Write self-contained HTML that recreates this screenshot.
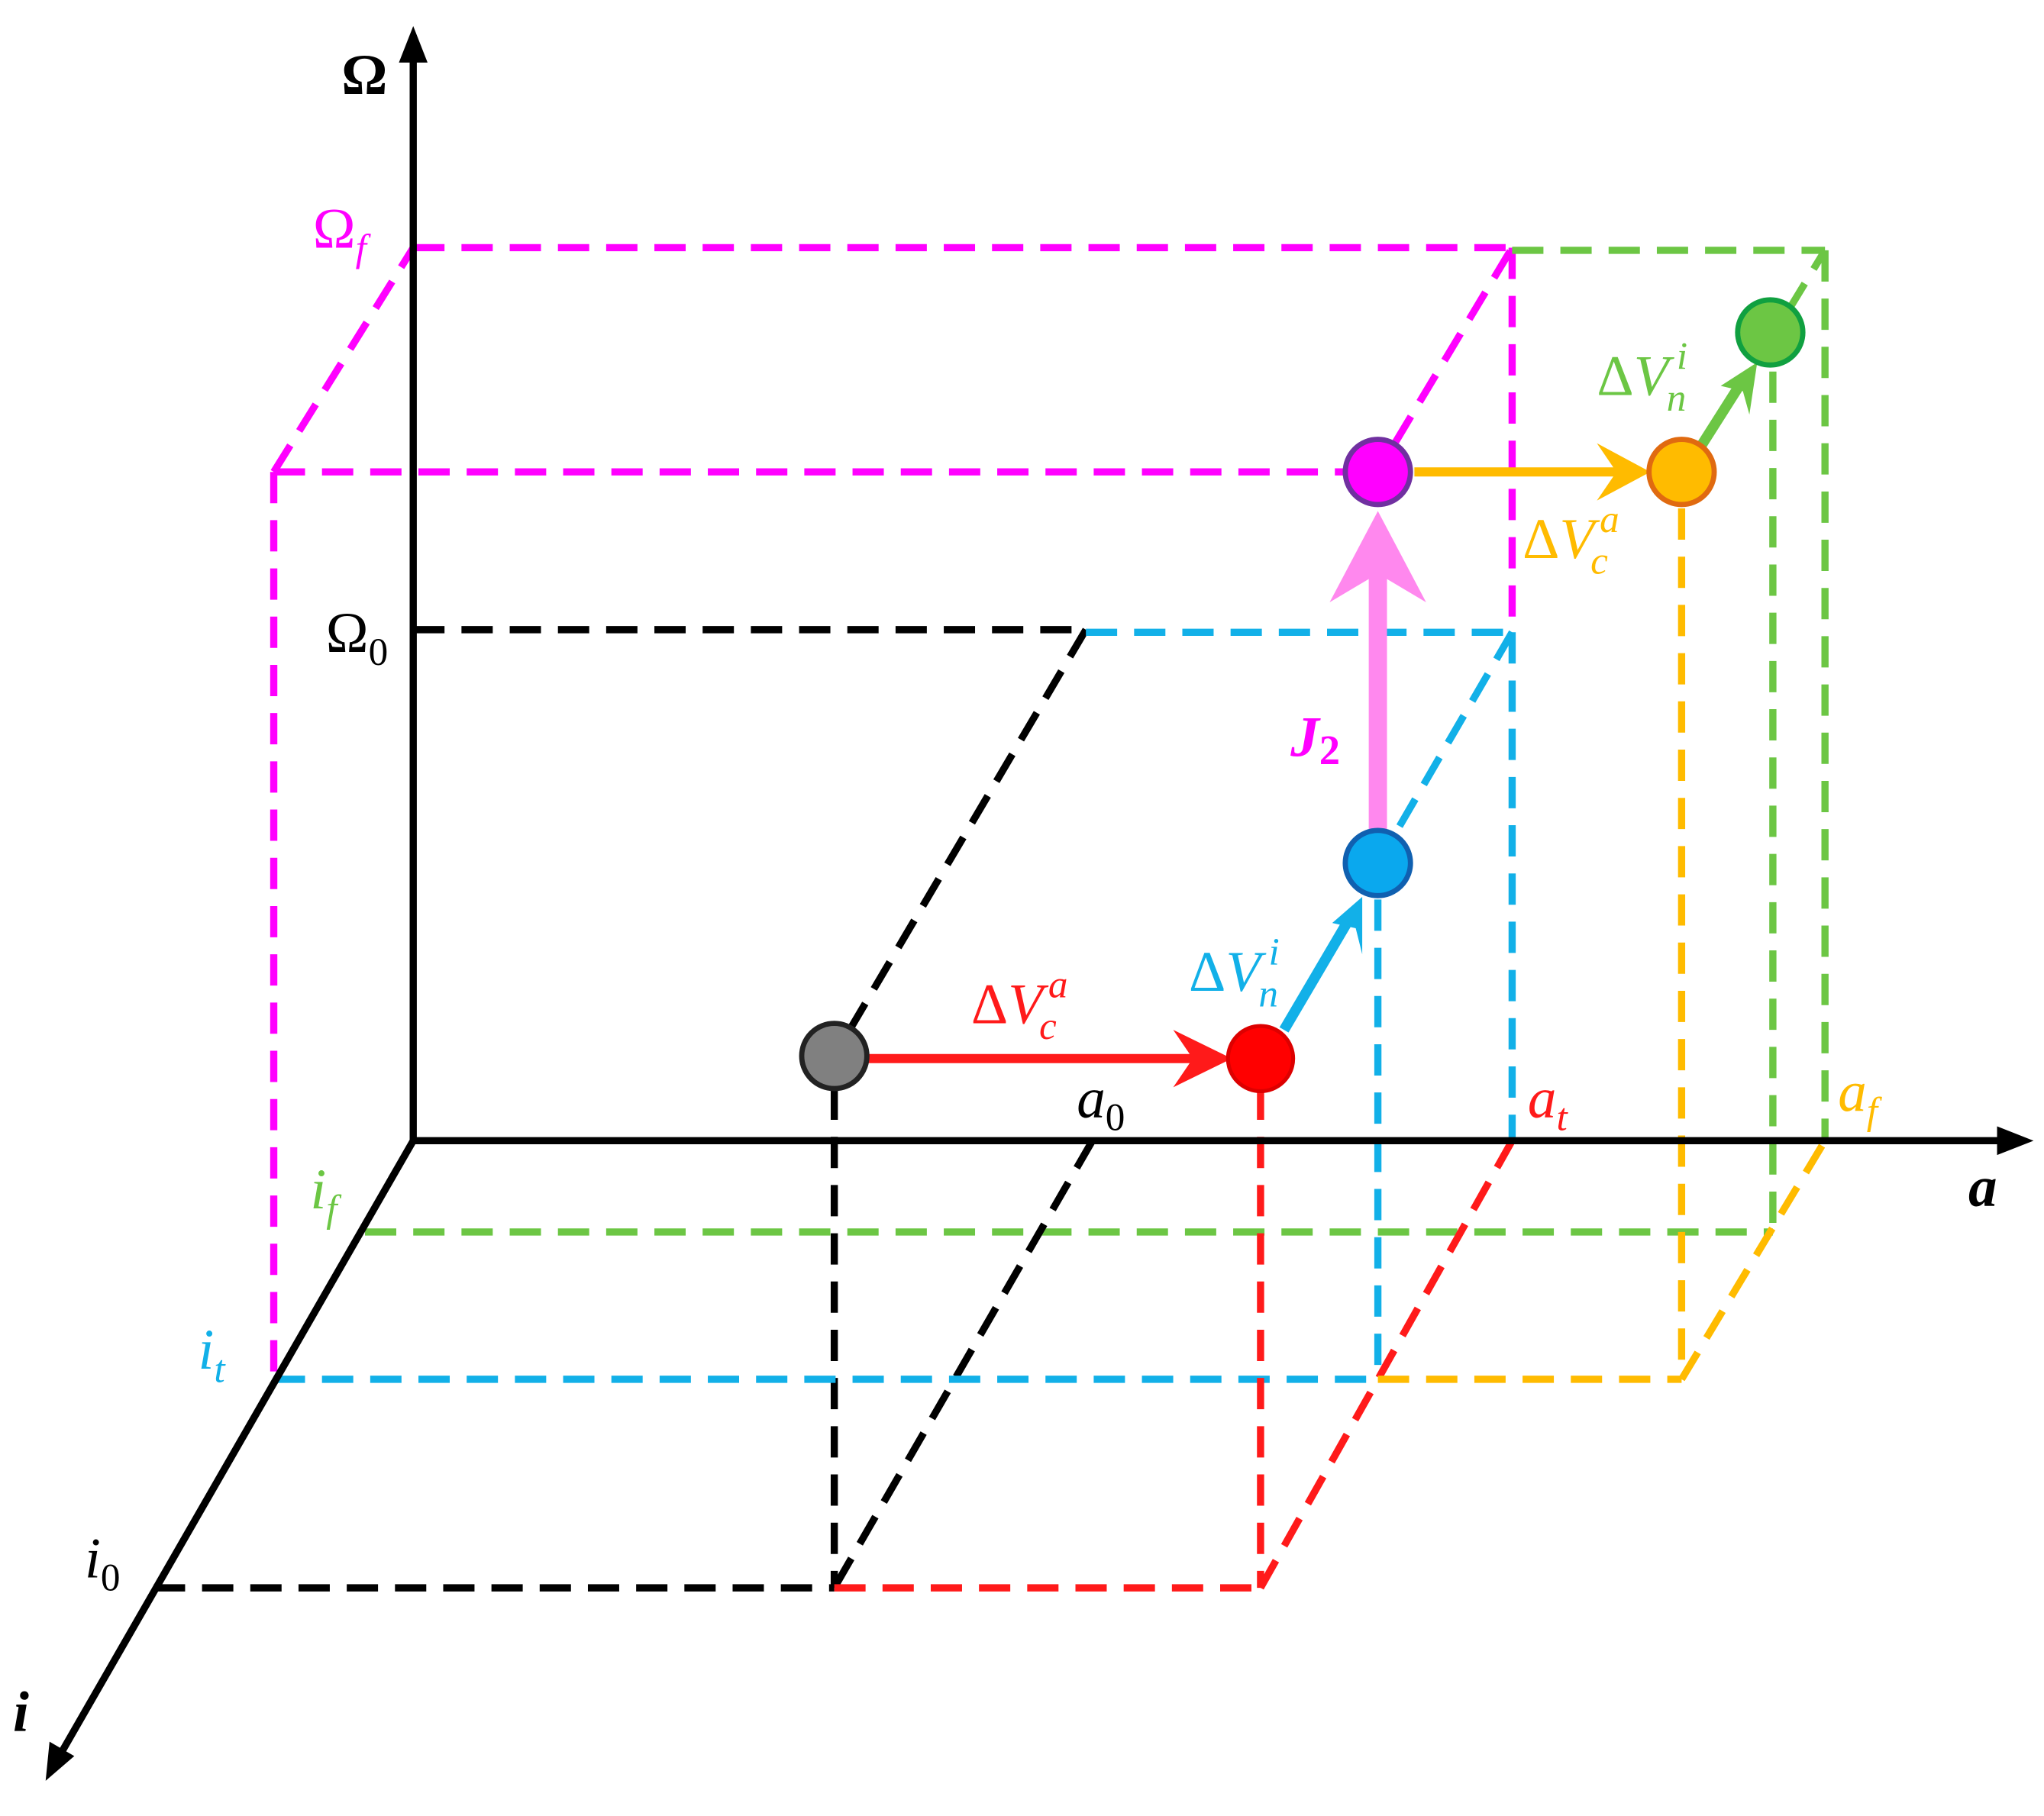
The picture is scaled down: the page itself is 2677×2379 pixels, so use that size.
<!DOCTYPE html>
<html><head><meta charset="utf-8"><style>
html,body{margin:0;padding:0;background:#fff;}
svg{display:block}
text{font-family:"Liberation Serif",serif;font-style:italic;font-size:44px}
</style></head><body>
<svg width="2677" height="2379" viewBox="0 0 1568 1393" preserveAspectRatio="none" xmlns="http://www.w3.org/2000/svg">
<g fill="none" stroke-width="5.5" stroke-dasharray="24 13">
<g stroke="#ff00ff">
<line x1="317" y1="190" x2="1160" y2="190"/>
<line x1="210" y1="362" x2="317" y2="190"/>
<line x1="210" y1="362" x2="1035" y2="362"/>
<line x1="210" y1="362" x2="210" y2="1058"/>
<line x1="1070" y1="340" x2="1160" y2="190"/>
<line x1="1160" y1="190" x2="1160" y2="485"/>
</g>
<g stroke="#6cc644">
<line x1="1160" y1="192" x2="1400" y2="192"/>
<line x1="1372" y1="238" x2="1400" y2="192"/>
<line x1="1400" y1="192" x2="1400" y2="875"/>
<line x1="1360" y1="285" x2="1360" y2="945"/>
<line x1="280" y1="945" x2="1360" y2="945"/>
</g>
<g stroke="#000">
<line x1="317" y1="483" x2="833" y2="483"/>
<line x1="833" y1="483" x2="640" y2="810"/>
<line x1="640" y1="835" x2="640" y2="1218"/>
<line x1="838" y1="875" x2="640" y2="1218"/>
<line x1="118" y1="1218" x2="640" y2="1218"/>
</g>
<g stroke="#12b0e8">
<line x1="833" y1="485" x2="1160" y2="485"/>
<line x1="1160" y1="485" x2="1070" y2="640"/>
<line x1="1160" y1="485" x2="1160" y2="875"/>
<line x1="1057" y1="690" x2="1057" y2="1058"/>
<line x1="210" y1="1058" x2="1057" y2="1058"/>
</g>
<g stroke="#ff1a1a">
<line x1="967" y1="835" x2="967" y2="1218"/>
<line x1="640" y1="1218" x2="967" y2="1218"/>
<line x1="967" y1="1218" x2="1160" y2="875"/>
</g>
<g stroke="#ffbb00">
<line x1="1290" y1="390" x2="1290" y2="1058"/>
<line x1="1057" y1="1058" x2="1290" y2="1058"/>
<line x1="1290" y1="1058" x2="1400" y2="875"/>
</g>
</g>
<g stroke="#000" stroke-width="5.5" fill="none">
<line x1="317" y1="875" x2="317" y2="40"/>
<line x1="317" y1="875" x2="1540" y2="875"/>
<line x1="317" y1="875" x2="45" y2="1348"/>
</g>
<path d="M317,20 L306,48 L328,48 Z" fill="#000"/>
<path d="M1560,875 L1532,864 L1532,886 Z" fill="#000"/>
<path d="M35,1366 L38,1336 L57,1347 Z" fill="#000"/>
<line x1="665" y1="812" x2="935" y2="812" stroke="#ff1a1a" stroke-width="7"/>
<path d="M945,812 L900,790 L915,812 L900,834 Z" fill="#ff1a1a"/>
<line x1="985" y1="790" x2="1035" y2="705" stroke="#12b0e8" stroke-width="8"/>
<path d="M1045,688 L1022,708 L1040,712 L1045,732 Z" fill="#12b0e8"/>
<line x1="1057" y1="640" x2="1057" y2="420" stroke="#ff88ee" stroke-width="14"/>
<path d="M1057,392 L1020,462 L1057,440 L1094,462 Z" fill="#ff88ee"/>
<line x1="1085" y1="362" x2="1255" y2="362" stroke="#ffbb00" stroke-width="7"/>
<path d="M1266,362 L1225,340 L1240,362 L1225,384 Z" fill="#ffbb00"/>
<line x1="1305" y1="342" x2="1338" y2="290" stroke="#6cc644" stroke-width="8"/>
<path d="M1348,278 L1320,296 L1337,300 L1342,318 Z" fill="#6cc644"/>
<circle cx="640" cy="810" r="25" fill="#808080" stroke="#222" stroke-width="4"/>
<circle cx="967" cy="812" r="25" fill="#ff0000" stroke="#dd0000" stroke-width="3"/>
<circle cx="1057" cy="662" r="25" fill="#0aa8ee" stroke="#1060b0" stroke-width="4"/>
<circle cx="1057" cy="362" r="25" fill="#ff00ff" stroke="#7030a0" stroke-width="4"/>
<circle cx="1290" cy="362" r="25" fill="#ffbb00" stroke="#e06a10" stroke-width="4"/>
<circle cx="1358" cy="255" r="25" fill="#6cc644" stroke="#10a040" stroke-width="4"/>
<text x="262" y="72" font-weight="bold" style="font-style:normal">Ω</text>
<text x="1510" y="925" font-weight="bold">a</text>
<text x="10" y="1328" font-weight="bold">i</text>
<text x="240" y="190" fill="#ff00ff"><tspan style="font-style:normal">Ω</tspan><tspan font-size="30" dy="10">f</tspan></text>
<text x="250" y="500"><tspan style="font-style:normal">Ω</tspan><tspan font-size="30" dy="10" style="font-style:normal">0</tspan></text>
<text x="826" y="857">a<tspan font-size="30" dy="10" style="font-style:normal">0</tspan></text>
<text x="1172" y="857" fill="#ff1a1a">a<tspan font-size="30" dy="10">t</tspan></text>
<text x="1410" y="852" fill="#ffbb00">a<tspan font-size="30" dy="10">f</tspan></text>
<text x="238" y="927" fill="#6cc644">i<tspan font-size="30" dy="10">f</tspan></text>
<text x="152" y="1050" fill="#12b0e8">i<tspan font-size="30" dy="10">t</tspan></text>
<text x="65" y="1210">i<tspan font-size="30" dy="10" style="font-style:normal">0</tspan></text>
<text x="745" y="785" fill="#ff1a1a"><tspan style="font-style:normal">Δ</tspan>V<tspan font-size="30" dx="4" dy="-20">a</tspan><tspan font-size="30" dx="-22" dy="32">c</tspan></text>
<text x="912" y="760" fill="#12b0e8"><tspan style="font-style:normal">Δ</tspan>V<tspan font-size="30" dx="6" dy="-20">i</tspan><tspan font-size="30" dx="-16" dy="32">n</tspan></text>
<text x="1168" y="428" fill="#ffbb00"><tspan style="font-style:normal">Δ</tspan>V<tspan font-size="30" dx="4" dy="-20">a</tspan><tspan font-size="30" dx="-22" dy="32">c</tspan></text>
<text x="1225" y="303" fill="#6cc644"><tspan style="font-style:normal">Δ</tspan>V<tspan font-size="30" dx="6" dy="-20">i</tspan><tspan font-size="30" dx="-16" dy="32">n</tspan></text>
<text x="990" y="580" fill="#ff00ff" font-weight="bold">J<tspan font-size="32" dy="6" style="font-style:normal">2</tspan></text>
</svg>
</body></html>
